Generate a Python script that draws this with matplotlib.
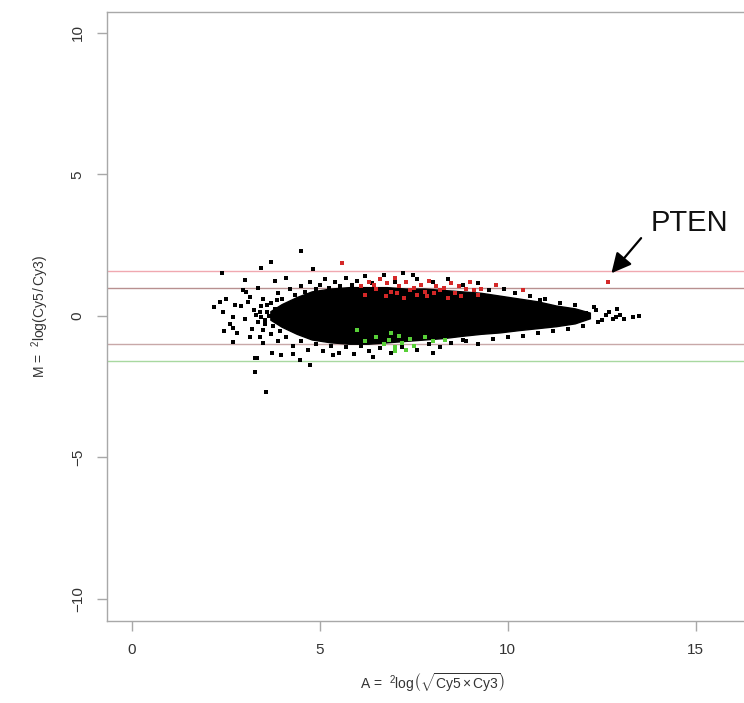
import matplotlib
matplotlib.use("Agg")
import matplotlib.pyplot as plt
from matplotlib.patches import Polygon

plt.rcParams['font.family'] = ['Liberation Sans', 'DejaVu Sans']
plt.rcParams['mathtext.fontset'] = 'custom'
plt.rcParams['mathtext.rm'] = 'Liberation Sans'
plt.rcParams['mathtext.it'] = 'Liberation Sans:italic'
plt.rcParams['mathtext.bf'] = 'Liberation Sans:bold'

# ---- data ----
# dense core of the MA cloud (envelope)
core_A  = [3.7, 4.0, 4.4, 4.8, 5.3, 5.8, 6.3, 6.8, 7.3, 7.8, 8.3, 8.8, 9.3, 9.8, 10.3, 10.8, 11.3, 11.8, 12.2]
core_hi = [0.15, 0.4, 0.65, 0.85, 0.95, 1.0, 1.0, 1.0, 0.95, 0.95, 0.9, 0.85, 0.8, 0.7, 0.6, 0.5, 0.35, 0.25, 0.1]
core_lo = [-0.15, -0.4, -0.65, -0.85, -0.95, -1.0, -1.0, -0.95, -0.9, -0.85, -0.8, -0.72, -0.65, -0.6, -0.52, -0.45, -0.38, -0.28, -0.1]

# individual black points (outliers / ragged edge of the cloud)
black_A = [4.51, 3.70, 2.39, 3.45, 4.81, 3.01, 3.05, 2.34, 2.74, 2.42, 2.69, 2.69, 2.69, 3.27, 3.27,
           3.98, 4.47, 4.73, 5.35, 6.41, 8.00, 3.40, 3.14, 7.21, 7.47, 3.58, 3.32, 3.72,
           12.36, 12.62, 12.89, 13.33, 12.09, 10.85, 10.50, 8.80,
           3.5, 3.7, 3.9, 4.0, 4.2, 4.35, 4.5, 4.6, 4.75, 4.9, 5.0, 5.15, 5.25, 5.4, 5.55, 5.7,
           5.85, 6.0, 6.2, 6.4, 6.7, 7.0, 7.6, 8.0, 8.4, 8.8, 9.2, 9.5, 9.9, 10.2, 10.6, 11.0,
           11.4, 11.8, 12.3,
           3.5, 3.7, 3.9, 4.1, 4.3, 4.5, 4.7, 4.9, 5.1, 5.3, 5.5, 5.7, 5.9, 6.1, 6.3, 6.6,
           6.9, 7.2, 7.6, 7.9, 8.2, 8.5, 8.9, 9.2, 9.6, 10.0, 10.4, 10.8, 11.2, 11.6, 12.0, 12.4,
           2.9, 3.0, 3.1, 3.2, 3.25, 3.35, 3.45, 3.55, 3.6, 3.65, 2.8, 2.95, 3.15, 3.35, 3.5,
           2.5, 2.6, 2.2, 2.45, 3.8, 4.1, 4.3,
           12.7, 12.8, 13.0, 12.5, 13.1, 12.9, 13.5,
           3.3, 3.45, 3.6, 3.75, 3.85, 3.95, 4.05, 3.4, 3.55, 3.8]
black_M = [2.31, 1.91, 1.53, 1.69, 1.66, 1.27, 0.86, 0.51, 0.39, 0.15, -0.04, -0.42, -0.91, -1.48, -1.97,
           -1.38, -1.55, -1.73, -1.38, -1.44, -1.31, -0.73, 0.68, 1.52, 1.45, -2.70, -1.49, -1.32,
           0.21, 0.04, -0.05, -0.05, 0.10, 0.57, 0.33, -0.85,
           0.6, 0.45, 0.8, 0.6, 0.95, 0.75, 1.05, 0.85, 1.2, 0.95, 1.1, 1.3, 1.0, 1.2, 1.05, 1.35,
           1.1, 1.25, 1.4, 1.15, 1.45, 1.2, 1.3, 1.2, 1.3, 1.1, 1.15, 0.9, 0.95, 0.8, 0.7, 0.6,
           0.45, 0.4, 0.3,
           -0.5, -0.65, -0.9, -0.75, -1.05, -0.9, -1.2, -1.0, -1.25, -1.05, -1.3, -1.1, -1.35, -1.05, -1.25, -1.15,
           -1.3, -1.1, -1.2, -1.0, -1.1, -0.95, -0.9, -1.0, -0.8, -0.75, -0.7, -0.6, -0.55, -0.45, -0.35, -0.2,
           0.35, -0.1, 0.5, -0.45, 0.2, -0.2, 0.35, -0.3, 0.15, 0.0, -0.6, 0.9, -0.75, 1.0, -0.95,
           0.6, -0.3, 0.3, -0.55, 1.25, 1.35, -1.35,
           0.15, -0.1, 0.05, -0.15, -0.1, 0.25, 0.0,
           0.05, -0.05, 0.4, -0.35, 0.55, -0.55, 0.3, 0.15, -0.15, 0.25]

# significantly up (red) genes
red_A = [5.58, 6.1, 6.3, 6.5, 6.6, 6.8, 6.9, 7.0, 7.1, 7.3, 7.4, 7.5, 7.7, 7.8, 7.9, 8.1, 8.2,
         8.3, 8.5, 8.6, 8.7, 8.9, 9.1, 9.3, 9.70, 10.41, 12.67,
         6.2, 6.45, 6.75, 7.05, 7.25, 7.6, 7.85, 8.05, 8.4, 8.75, 9.0, 9.2]
red_M = [1.87, 1.05, 1.2, 0.95, 1.3, 1.15, 0.85, 1.35, 1.05, 1.2, 0.9, 1.0, 1.1, 0.85, 1.25, 1.05, 0.9,
         1.0, 1.15, 0.8, 1.05, 0.95, 0.9, 0.95, 1.10, 0.92, 1.21,
         0.75, 1.1, 0.7, 0.8, 0.65, 0.75, 0.7, 0.8, 0.65, 0.7, 1.2, 0.75]

# significantly down (green) genes
green_A = [6.0, 6.2, 6.5, 6.7, 6.85, 7.0, 7.1, 7.2, 7.4, 7.5, 7.8, 8.0, 8.32, 7.0, 7.3, 6.9]
green_M = [-0.5, -0.9, -0.75, -1.0, -0.85, -1.1, -0.7, -0.95, -0.8, -1.05, -0.75, -0.9, -0.85, -1.25, -1.2, -0.6]

cutoffs = [1.585, 1.0, -1.0, -1.585]
cutoff_colors = ['#f0a8b0', '#b89090', '#c8a8a8', '#a8d8a0']

pten = (12.67, 1.21)
pten_label = 'PTEN'
xticks = [0, 5, 10, 15]
yticks = [-10, -5, 0, 5, 10]

# ---- figure ----
fig = plt.figure(figsize=(7.44, 7.03), dpi=100)
ax = fig.add_axes([107/744, 82/703, 651/744, 609/703])
ax.set_xlim(-0.66, 16.66)
ax.set_ylim(-10.78, 10.74)

for v, c in zip(cutoffs, cutoff_colors):
    ax.axhline(v, color=c, lw=1.0, zorder=1)

poly_pts = list(zip(core_A, core_hi)) + list(zip(core_A[::-1], core_lo[::-1]))
ax.add_patch(Polygon(poly_pts, closed=True, facecolor='black', edgecolor='black', lw=1.0, zorder=2))

ax.scatter(black_A, black_M, s=7, marker='s', color='black', lw=0, zorder=3)
ax.scatter(red_A, red_M, s=12, marker='s', color='#d42828', lw=0, zorder=4)
ax.scatter(green_A, green_M, s=12, marker='s', color='#58d038', lw=0, zorder=4)

ax.annotate('', xy=(pten[0] + 0.09, pten[1] + 0.3), xytext=(13.55, 2.75),
            arrowprops=dict(arrowstyle='-|>', mutation_scale=30, lw=1.6, color='black',
                            shrinkA=0, shrinkB=0), zorder=5)
ax.text(14.84, 3.29, pten_label, fontsize=21, ha='center', va='center', color='#111111')

for s in ax.spines.values():
    s.set_color('#a8a8a8')
    s.set_linewidth(1.0)
ax.set_xticks(xticks)
ax.set_yticks(yticks)
ax.set_xticklabels([str(t) for t in xticks], fontsize=11, color='#333333')
ax.set_yticklabels([str(t).replace('-', '\u2212') for t in yticks], fontsize=11, color='#333333',
                   rotation=90, va='center')
ax.tick_params(axis='both', length=7, color='#a8a8a8', width=1.0, pad=9)

ax.set_xlabel(r'A =  $^{2}$log$\left(\sqrt{\mathrm{Cy5\times Cy3}}\right)$', fontsize=10, color='#333333', labelpad=10)
ax.set_ylabel(r'M =  $^{2}$log$\left(\mathrm{Cy5 \,/\, Cy3}\right)$', fontsize=10, color='#333333', labelpad=14)

fig.savefig('out.png', dpi=100)
